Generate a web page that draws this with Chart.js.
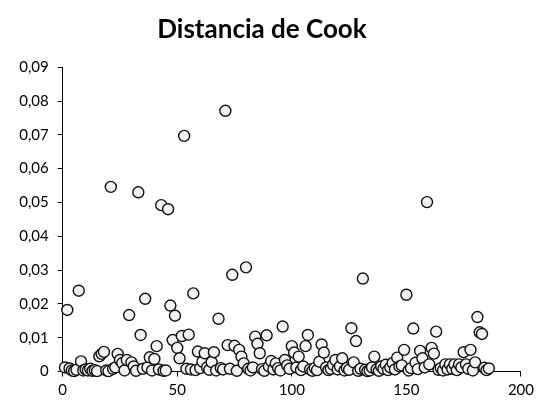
<!DOCTYPE html>
<html>
<head>
<meta charset="utf-8">
<script src="https://cdn.jsdelivr.net/npm/chart.js@4.4.1/dist/chart.umd.min.js"></script>
<style>
html,body{margin:0;padding:0;background:#fff;}
#wrap{width:539px;height:405px;}
</style>
</head>
<body>
<div id="wrap"><canvas id="c" width="539" height="405"></canvas></div>
<script>
const chartTitle = "Distancia de Cook";
const xTicks = [0, 50, 100, 150, 200];
const yTicks = [0, 0.01, 0.02, 0.03, 0.04, 0.05, 0.06, 0.07, 0.08, 0.09];
// Cook's distance per observation (observation index = position + 1)
const cookValues = [
  0.0012, 0.0182, 0.0009, 0.0003, 0.0001, 0.0005, 0.0239, 0.0030, 0.0003, 0.0006,
  0.0003, 0.0008, 0.0002, 0.0004, 0.0001, 0.0045, 0.0052, 0.0058, 0.0003, 0.0001,
  0.0546, 0.0008, 0.0012, 0.0052, 0.0034, 0.0025, 0.0003, 0.0034, 0.0167, 0.0027,
  0.0015, 0.0002, 0.0530, 0.0108, 0.0008, 0.0215, 0.0012, 0.0042, 0.0003, 0.0037,
  0.0075, 0.0006, 0.0492, 0.0002, 0.0003, 0.0480, 0.0195, 0.0093, 0.0165, 0.0070,
  0.0039, 0.0105, 0.0697, 0.0008, 0.0109, 0.0006, 0.0231, 0.0004, 0.0059, 0.0010,
  0.0029, 0.0054, 0.0012, 0.0005, 0.0028, 0.0057, 0.0003, 0.0156, 0.0010, 0.0006,
  0.0771, 0.0078, 0.0008, 0.0286, 0.0076, 0.0002, 0.0064, 0.0044, 0.0024, 0.0308,
  0.0008, 0.0003, 0.0012, 0.0103, 0.0082, 0.0054, 0.0007, 0.0002, 0.0107, 0.0015,
  0.0031, 0.0006, 0.0024, 0.0010, 0.0003, 0.0133, 0.0034, 0.0018, 0.0008, 0.0075,
  0.0056, 0.0012, 0.0044, 0.0004, 0.0015, 0.0075, 0.0108, 0.0006, 0.0002, 0.0010,
  0.0004, 0.0029, 0.0080, 0.0056, 0.0012, 0.0004, 0.0008, 0.0020, 0.0034, 0.0006,
  0.0015, 0.0039, 0.0003, 0.0010, 0.0005, 0.0128, 0.0027, 0.0090, 0.0002, 0.0008,
  0.0275, 0.0005, 0.0001, 0.0003, 0.0012, 0.0044, 0.0006, 0.0002, 0.0015, 0.0008,
  0.0020, 0.0004, 0.0012, 0.0025, 0.0006, 0.0041, 0.0015, 0.0018, 0.0064, 0.0227,
  0.0003, 0.0010, 0.0127, 0.0026, 0.0007, 0.0061, 0.0039, 0.0012, 0.0501, 0.0021,
  0.0070, 0.0053, 0.0118, 0.0005, 0.0010, 0.0003, 0.0021, 0.0006, 0.0021, 0.0008,
  0.0021, 0.0004, 0.0021, 0.0012, 0.0057, 0.0021, 0.0008, 0.0064, 0.0003, 0.0027,
  0.0161, 0.0116, 0.0111, 0.0011, 0.0004, 0.0009
];
const observations = cookValues.map((_, i) => i + 1);

const points = observations.map((x, i) => ({ x: x, y: cookValues[i] }));
const fmt = v => (Math.abs(v) < 1e-9 ? '0' : v.toFixed(2).replace('.', ','));
const fontFam = "Lato, 'Open Sans', sans-serif";

new Chart(document.getElementById('c'), {
  type: 'scatter',
  data: {
    datasets: [{
      data: points,
      pointRadius: 5.5,
      pointHoverRadius: 5.5,
      pointBorderWidth: 1.4,
      pointBackgroundColor: '#f2f2f2',
      pointBorderColor: '#111111',
      clip: false
    }]
  },
  options: {
    responsive: false,
    animation: false,
    devicePixelRatio: 1,
    layout: { padding: { left: 0, right: 15, top: 0, bottom: 0 } },
    plugins: {
      legend: { display: false },
      tooltip: { enabled: false },
      title: {
        display: true,
        text: chartTitle,
        color: '#000',
        font: { family: fontFam, size: 26, weight: 'bold' },
        padding: { top: 14, bottom: 22 }
      }
    },
    scales: {
      x: {
        type: 'linear',
        min: 0, max: 200,
        afterBuildTicks: s => { s.ticks = xTicks.map(v => ({ value: v })); },
        afterFit: s => { s.height = 33.5; },
        grid: { display: true, drawOnChartArea: false, drawTicks: true, tickLength: 5, color: '#000', lineWidth: 1 },
        border: { display: true, color: '#000', width: 1 },
        ticks: { color: '#000', padding: 5, maxRotation: 0, font: { family: fontFam, size: 15 }, callback: v => String(v) }
      },
      y: {
        type: 'linear',
        min: 0, max: 0.09,
        afterBuildTicks: s => { s.ticks = yTicks.map(v => ({ value: v })); },
        afterFit: s => { s.width = 62.7; },
        grid: { display: true, drawOnChartArea: false, drawTicks: true, tickLength: 5, color: '#000', lineWidth: 1 },
        border: { display: true, color: '#000', width: 1 },
        ticks: { color: '#000', padding: 9, font: { family: fontFam, size: 15 }, callback: v => fmt(v) }
      }
    }
  }
});
</script>
</body>
</html>
